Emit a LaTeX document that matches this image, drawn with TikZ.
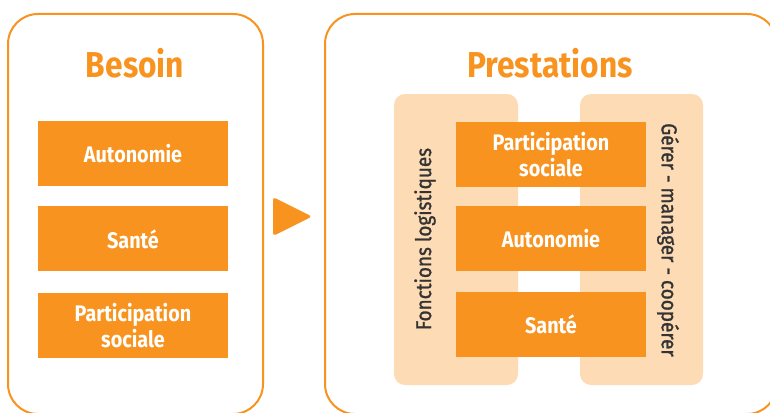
\documentclass[tikz,border=0pt]{standalone}
\usepackage{fontspec}
\setmainfont{Fira Sans}
\newfontfamily\condfont[FakeStretch=0.88]{Fira Sans}
\newfontfamily\vertfont[FakeStretch=0.88,FakeBold=1.2]{Fira Sans}
\usepackage{xcolor}
\usetikzlibrary{positioning}
\definecolor{orangeA}{HTML}{F7931E}
\definecolor{peach}{HTML}{FDDBB4}
\definecolor{greyT}{HTML}{333333}

\begin{document}
\begin{tikzpicture}[x=1pt,y=-1pt,
  cadre/.style={draw=orangeA,line width=2pt,rounded corners=30pt},
  titre/.style={text=orangeA,font=\condfont\bfseries\fontsize{36}{38}\selectfont},
  bloc/.style={fill=orangeA,text=white,minimum width=190pt,minimum height=65pt,align=center,inner sep=0pt,
    font=\condfont\bfseries\fontsize{22.5}{26}\selectfont},
  bande/.style={fill=peach,rounded corners=11pt},
  vert/.style={text=greyT,font=\vertfont\fontsize{21.5}{23}\selectfont}]
\useasboundingbox (0,0) rectangle (770,412);
\clip (0,0) rectangle (770,412);
% cadres
\draw[cadre] (8,14) rectangle (263,414);
\draw[cadre] (325,14) rectangle (777,414);
\node[titre] (besoin) at (135,63) {Besoin};
\node[titre] (prest) at (550,63) {Prestations};
% besoin
\node[bloc] (b1) at (133,153.5) {Autonomie};
\node[bloc,below=20pt of b1] (b2) {Santé};
\node[bloc,below=21pt of b2] (b3) {Participation\\sociale};
% fleche
\fill[orangeA,rounded corners=3pt] (273,197) -- (312,216.5) -- (273,236) -- cycle;
% prestations
\fill[bande] (394,94) rectangle (518,385);
\fill[bande] (580,94) rectangle (703,385);
\node[bloc] (p1) at (551,154.5) {Participation\\sociale};
\node[bloc,below=19pt of p1] (p2) {Autonomie};
\node[bloc,below=20pt of p2] (p3) {Santé};
\node[vert,rotate=90] (logi) at (425,239) {Fonctions logistiques};
\node[vert,rotate=-90] (gerer) at (668,240) {Gérer - manager - coopérer};
\end{tikzpicture}
\end{document}
